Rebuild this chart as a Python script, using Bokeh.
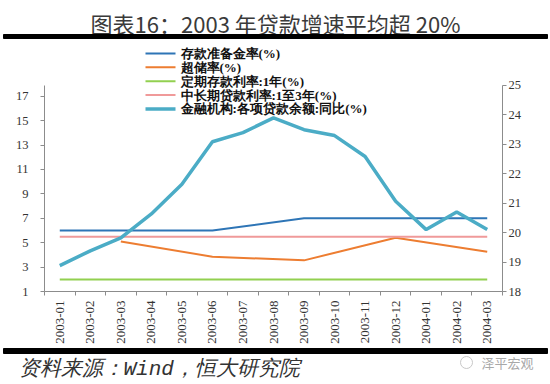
import math
from bokeh.plotting import figure
from bokeh.models import Range1d, LinearAxis, FixedTicker, ColumnDataSource
from bokeh.core.properties import value
from bokeh.embed import file_html
from bokeh.resources import INLINE

# ---------------- data ----------------
months = ["2003-01", "2003-02", "2003-03", "2003-04", "2003-05", "2003-06", "2003-07",
          "2003-08", "2003-09", "2003-10", "2003-11", "2003-12", "2004-01", "2004-02", "2004-03"]
reserve_ratio = [6, 6, 6, 6, 6, 6, None, None, 7, 7, 7, 7, 7, 7, 7]
excess_reserve = [None, None, 5.1, None, None, 3.85, None, None, 3.55, None, None, 5.4, None, None, 4.25]
deposit_rate_1y = [1.98, 1.98, 1.98, 1.98, 1.98, 1.98, 1.98, 1.98, 1.98, 1.98, 1.98, 1.98, 1.98, 1.98, 1.98]
loan_rate_1to3y = [5.49, 5.49, 5.49, 5.49, 5.49, 5.49, 5.49, 5.49, 5.49, 5.49, 5.49, 5.49, 5.49, 5.49, 5.49]
loan_growth = [18.88, 19.38, 19.82, 20.63, 21.64, 23.08, 23.39, 23.89, 23.49, 23.29, 22.58, 21.06, 20.1, 20.7, 20.1]
left_ticks = [1, 3, 5, 7, 9, 11, 13, 15, 17]
right_ticks = [18, 19, 20, 21, 22, 23, 24, 25]
left_bounds = (1, 17.9)
right_bounds = (18, 25)
series_names = ["存款准备金率(%)", "超储率(%)", "定期存款利率:1年(%)",
                "中长期贷款利率:1至3年(%)", "金融机构:各项贷款余额:同比(%)"]
title_text = "图表16：2003 年贷款增速平均超 20%"
source_text = "资料来源：Wind，恒大研究院"
watermark_text = "泽平宏观"

CJK = "Noto Sans CJK SC"
SERIF = "Liberation Serif"
W = 550


def pts(vals):
    xs = [i for i, v in enumerate(vals) if v is not None]
    ys = [v for v in vals if v is not None]
    return ColumnDataSource(dict(x=xs, y=ys))


def blank(h):
    f = figure(width=W, height=h, x_range=Range1d(0, W), y_range=Range1d(0, h),
               output_backend="svg", toolbar_location=None,
               min_border_left=0, min_border_right=0, min_border_top=0, min_border_bottom=0,
               x_axis_location=None, y_axis_location=None)
    f.grid.visible = False
    f.outline_line_color = None
    return f

# ---------------- header (page y 0..46) ----------------
HH = 46
head = blank(HH)
head.text(x=[W / 2], y=[HH - 22], text=[title_text], text_font=value(CJK),
          text_font_size="22px", text_color="#3a3a3a", text_align="center", text_baseline="middle")
head.quad(left=[3], right=[547], bottom=[HH - 38], top=[HH - 34], color="black")

# ---------------- main (page y 46..346) ----------------
TOP, frame_left, frame_right = 46, 44, 502
frame_top, frame_bottom, axis_top = 46, 293, 85
lpx = (frame_bottom - axis_top) / (left_bounds[1] - left_bounds[0])
rpx = (frame_bottom - axis_top) / (right_bounds[1] - right_bounds[0])
H = frame_bottom - frame_top
n = len(months)
p = figure(width=W, height=346 - TOP, x_range=Range1d(-0.5, n - 0.5),
           y_range=Range1d(left_bounds[0], left_bounds[0] + H / lpx),
           output_backend="svg", toolbar_location=None,
           min_border_left=frame_left, min_border_right=W - frame_right,
           min_border_top=frame_top - TOP, min_border_bottom=346 - frame_bottom)
p.extra_y_ranges = {"r": Range1d(right_bounds[0], right_bounds[0] + H / rpx)}
p.grid.visible = False
p.outline_line_color = None

axis_color = "#8c8c8c"
la = p.yaxis[0]
la.ticker = FixedTicker(ticks=left_ticks)
la.bounds = left_bounds
ra = LinearAxis(y_range_name="r", ticker=FixedTicker(ticks=right_ticks), bounds=right_bounds)
p.add_layout(ra, "right")
for ax in (la, ra):
    ax.axis_line_color = axis_color
    ax.major_tick_line_color = axis_color
    ax.major_tick_out = 4
    ax.major_tick_in = 0
    ax.minor_tick_line_color = None
    ax.major_label_text_font = SERIF
    ax.major_label_text_font_size = "12.5px"
    ax.major_label_text_color = "#333333"
la.major_label_standoff = 12
ra.major_label_standoff = 2

xa = p.xaxis[0]
xa.ticker = FixedTicker(ticks=list(range(n)), minor_ticks=[k - 0.5 for k in range(n + 1)])
xa.major_label_overrides = {i: m for i, m in enumerate(months)}
xa.major_label_orientation = math.pi / 2
xa.major_tick_out = 0
xa.major_tick_in = 0
xa.minor_tick_out = 4
xa.minor_tick_in = 0
xa.axis_line_color = axis_color
xa.minor_tick_line_color = axis_color
xa.major_label_text_font = SERIF
xa.major_label_text_font_size = "13px"
xa.major_label_text_color = "#333333"
xa.major_label_standoff = 5

colors = ["#2E75B6", "#ED7D31", "#92D050", "#F09A9A", "#4BACC6"]
widths = [2, 2, 2, 2, 3.5]
p.line("x", "y", source=pts(reserve_ratio), line_color=colors[0], line_width=widths[0])
p.line("x", "y", source=pts(excess_reserve), line_color=colors[1], line_width=widths[1])
p.line("x", "y", source=pts(deposit_rate_1y), line_color=colors[2], line_width=widths[2])
p.line("x", "y", source=pts(loan_rate_1to3y), line_color=colors[3], line_width=widths[3])
p.line("x", "y", source=pts(loan_growth), line_color=colors[4], line_width=widths[4], y_range_name="r")

# ---------------- legend (drawn inside the frame, pixel layout -> data units) ----------------
xppx = (n) / (frame_right - frame_left)


def px_x(px):
    return -0.5 + (px - frame_left) * xppx


def px_y(py):
    return left_bounds[0] + (frame_bottom - py) / lpx


row_y = [px_y(53 + 14 * i) for i in range(len(series_names))]
leg = ColumnDataSource(dict(x0=[px_x(145)] * 5, x1=[px_x(175)] * 5, y=row_y,
                            c=colors, w=widths, tx=[px_x(180)] * 5, t=series_names))
p.segment(x0="x0", y0="y", x1="x1", y1="y", line_color="c", line_width="w", source=leg)
p.text(x="tx", y="y", text="t", source=leg, text_font=value(SERIF), text_font_size="13px",
       text_font_style="bold", text_color="#111111", text_align="left", text_baseline="middle")

# ---------------- footer (page y 346..384) ----------------
FH = 38
foot = blank(FH)
foot.quad(left=[3], right=[547], bottom=[FH - 7], top=[FH - 2], color="black")
foot.text(x=[18], y=[15], text=[source_text], text_font=value("Liberation Mono"), text_font_size="21px",
          text_font_style="italic", text_color="#333333", text_align="left", text_baseline="middle")
foot.text(x=[533], y=[22], text=[watermark_text], text_font=value(CJK), text_font_size="13px",
          text_color="#a8a8a8", text_align="right", text_baseline="middle")
foot.scatter(x=[466], y=[22], size=12, marker="circle", fill_color=None, line_color="#c8c8c8", line_width=1)

open("out.html", "w").write(file_html([head, p, foot], INLINE))
